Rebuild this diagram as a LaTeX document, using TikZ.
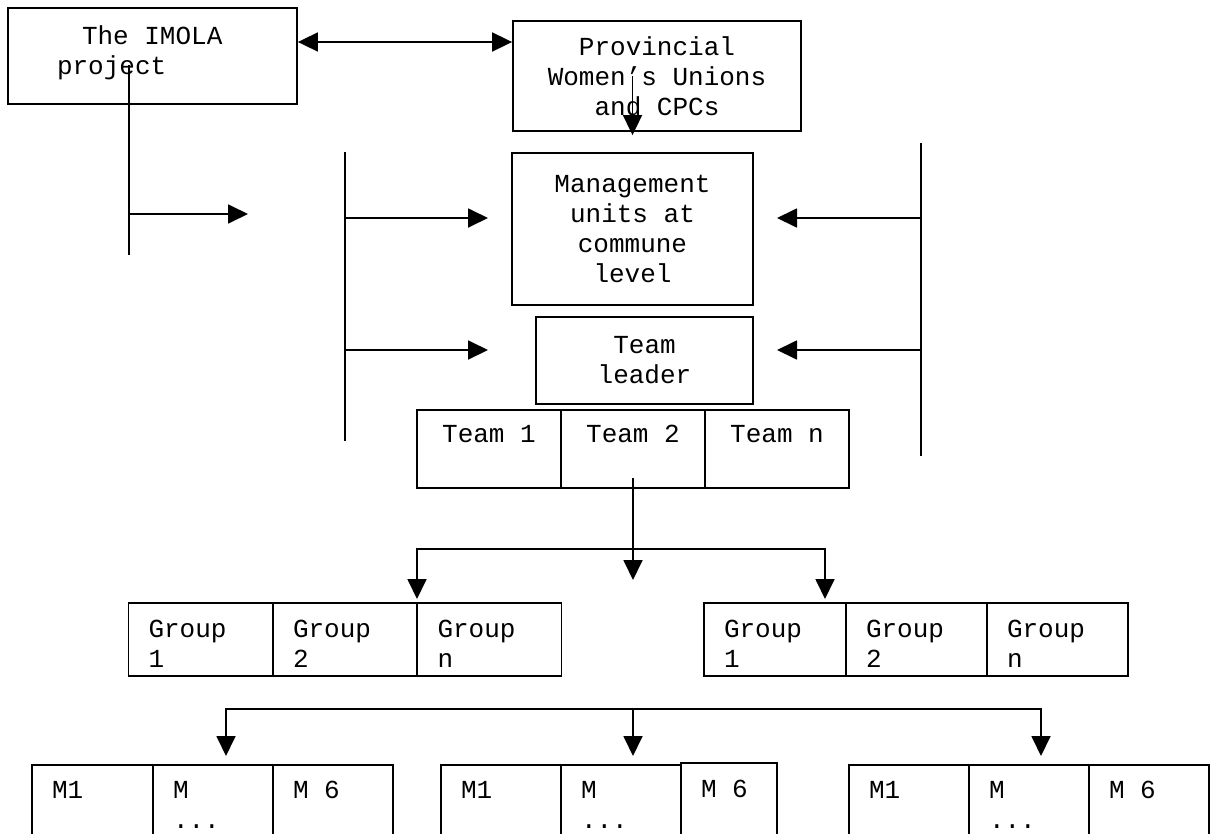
\documentclass[tikz,border=0pt]{standalone}
\usepackage{fontspec}
\setmainfont{Liberation Mono}[WordSpace={1,0,0}]
\usetikzlibrary{arrows.meta}

\begin{document}
\begin{tikzpicture}[x=1pt, y=-1pt, line width=1.8pt, >={Triangle[length=20pt,width=19pt]},
  font=\fontsize{26}{30}\selectfont,
  box/.style={draw, inner sep=0pt, align=center},
  cell/.style={draw, inner sep=0pt, inner xsep=20pt, align=left, text width=#1}]
\useasboundingbox (0,0) rectangle (1213,833);
\clip (0,0) rectangle (1213,833);
\node[box, minimum width=289pt, minimum height=96pt, inner xsep=49pt, text width=191pt, align=left] (imola) at (152.5,56) {\hspace*{25pt}The\hspace{0.6em}IMOLA\\project\rule[-12pt]{0pt}{0pt}};
\node[box, minimum width=288pt, minimum height=110pt] (prov) at (657,76) {Provincial\\Women's Unions\\and CPCs};
\node[box, minimum width=241pt, minimum height=152pt] (mgmt) at (632.5,229) {Management\\units at\\commune\\level};
\node[box, minimum width=217pt, minimum height=87pt] (lead) at (644.5,360.5) {Team\\leader};
\node[box, minimum width=144pt, minimum height=78pt] (team1) at (489,449) {Team 1\\\mbox{}};
\node[box, minimum width=144pt, minimum height=78pt] (team2) at (633,449) {Team 2\\\mbox{}};
\node[box, minimum width=144pt, minimum height=78pt] (teamn) at (777,449) {Team n\\\mbox{}};
\node[cell=104pt, minimum height=73pt] (ga1) at (200.5,639.5) {\rule{0pt}{25pt}Group\\1};
\node[cell=104pt, minimum height=73pt] (ga2) at (345,639.5) {\rule{0pt}{25pt}Group\\2};
\node[cell=104pt, minimum height=73pt] (gan) at (489.5,639.5) {\rule{0pt}{25pt}Group\\n};
\node[cell=102pt, minimum height=73pt] (gb1) at (775,639.5) {\rule{0pt}{25pt}Group\\1};
\node[cell=101pt, minimum height=73pt] (gb2) at (916.5,639.5) {\rule{0pt}{25pt}Group\\2};
\node[cell=101pt, minimum height=73pt] (gbn) at (1057.5,639.5) {\rule{0pt}{25pt}Group\\n};
\node[cell=81pt, minimum height=80pt] (ma1) at (92.5,805) {M1\\\mbox{}};
\node[cell=80pt, minimum height=80pt] (ma2) at (213,805) {M\\...};
\node[cell=80pt, minimum height=80pt] (ma6) at (333,805) {M\hspace{0.6em}6\\\mbox{}};
\node[cell=80pt, minimum height=80pt] (mb1) at (501,805) {M1\\\mbox{}};
\node[cell=80pt, minimum height=80pt] (mb2) at (621,805) {M\\...};
\node[cell=56pt, minimum height=82pt] (mb6) at (729,804) {M\hspace{0.6em}6\\\mbox{}};
\node[cell=80pt, minimum height=80pt] (mc1) at (909,805) {M1\\\mbox{}};
\node[cell=80pt, minimum height=80pt] (mc2) at (1029,805) {M\\...};
\node[cell=80pt, minimum height=80pt] (mc6) at (1149,805) {M\hspace{0.6em}6\\\mbox{}};
\coordinate (linkrow) at (0,42);
\draw[<->] (imola.east |- linkrow) -- (prov.west |- linkrow);
\draw[->] (mgmt.north |- prov.center) -- ([yshift=17pt]mgmt.north);
\coordinate (busa) at (129,65);
\coordinate (busa end) at (129,255);
\coordinate (tipa) at (248,214);
\draw (busa) -- (busa end);
\draw[->] (busa |- tipa) -- (tipa);
\coordinate (busb) at (345,152);
\coordinate (busb end) at (345,441);
\coordinate (tipb1) at (488,218);
\coordinate (tipb2) at (488,350);
\draw (busb) -- (busb end);
\draw[->] (busb |- tipb1) -- (tipb1);
\draw[->] (busb |- tipb2) -- (tipb2);
\coordinate (busc) at (921,143);
\coordinate (busc end) at (921,456);
\coordinate (tipc1) at (777,218);
\coordinate (tipc2) at (777,350);
\draw (busc) -- (busc end);
\draw[->] (busc |- tipc1) -- (tipc1);
\draw[->] (busc |- tipc2) -- (tipc2);
\coordinate (fork) at (633,580);
\coordinate (forkl) at (417,599);
\coordinate (forkr) at (825,599);
\draw[->] ([yshift=-29pt]team2.center) -- (fork);
\draw[<->] (forkl) -- ++(0,-50) -| (forkr);
\coordinate (mla) at (226,756);
\coordinate (mlb) at (633,756);
\coordinate (mlc) at (1041,756);
\draw[<->] (mla) -- ++(0,-47) -| (mlc);
\draw[->] ([yshift=47pt]mlb) -- (mlb);
\end{tikzpicture}
\end{document}
